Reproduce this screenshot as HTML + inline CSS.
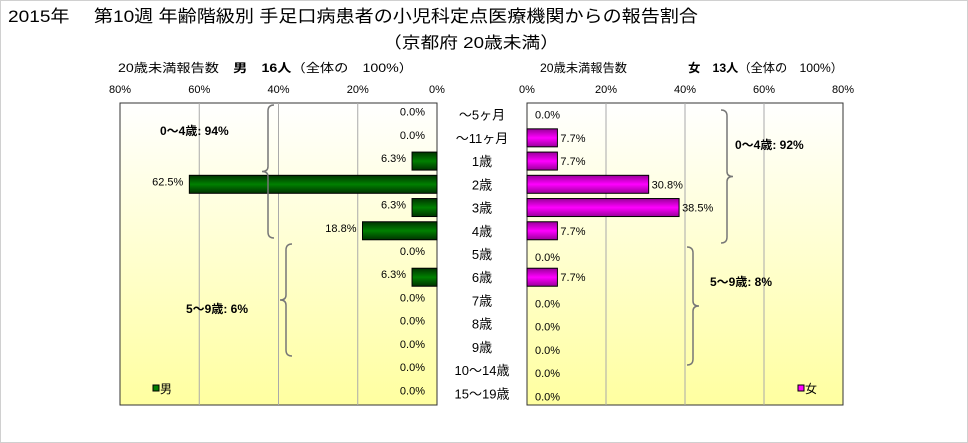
<!DOCTYPE html>
<html><head><meta charset="utf-8"><style>
body{margin:0;background:#fff;}
svg{display:block;font-family:"Liberation Sans","Noto Sans CJK JP",sans-serif;}
</style></head><body>
<svg id="c" width="968" height="443" viewBox="0 0 968 443">
<defs>
<linearGradient id="bg" x1="0" y1="0" x2="0" y2="1"><stop offset="0" stop-color="#ffffff"/><stop offset="1" stop-color="#ffffa0"/></linearGradient>
<linearGradient id="gm" x1="0" y1="0" x2="0" y2="1"><stop offset="0" stop-color="#003300"/><stop offset="0.5" stop-color="#008000"/><stop offset="1" stop-color="#003300"/></linearGradient>
<linearGradient id="gf" x1="0" y1="0" x2="0" y2="1"><stop offset="0" stop-color="#990099"/><stop offset="0.5" stop-color="#ff00ff"/><stop offset="1" stop-color="#990099"/></linearGradient>
</defs>
<rect x="0.5" y="0.5" width="967" height="442" fill="#fff" stroke="#d0d0d0"/>
<text x="8" y="22" font-size="17" textLength="690" lengthAdjust="spacingAndGlyphs">2015年　 第10週 年齢階級別 手足口病患者の小児科定点医療機関からの報告割合</text>
<text x="383" y="48" font-size="16" textLength="176" lengthAdjust="spacingAndGlyphs">（京都府 20歳未満）</text>
<text x="118" y="72" font-size="12" textLength="295" lengthAdjust="spacingAndGlyphs">20歳未満報告数　<tspan font-weight="bold">男　16人</tspan>（全体の　100%）</text>
<text x="540" y="72" font-size="12" textLength="303" lengthAdjust="spacingAndGlyphs">20歳未満報告数　　　　　<tspan font-weight="bold">女　13人</tspan>（全体の　100%）</text>
<g id="plots"></g>
</svg>
<script>
const categories=["～5ヶ月","～11ヶ月","1歳","2歳","3歳","4歳","5歳","6歳","7歳","8歳","9歳","10～14歳","15～19歳"];
const maleValues=[0,0,6.3,62.5,6.3,18.8,0,6.3,0,0,0,0,0];
const femaleValues=[0,7.7,7.7,30.8,38.5,7.7,0,7.7,0,0,0,0,0];
const tickValues=[0,20,40,60,80];
const tickLabels=["0%","20%","40%","60%","80%"];
const NS="http://www.w3.org/2000/svg";
const g=document.getElementById('plots');
const top0=103,bot=405,rh=(bot-top0)/categories.length;
const maleX=v=>437-v*(317/80);
const femX=v=>527+v*(316/80);
function el(t,a,txt){const e=document.createElementNS(NS,t);for(const k in a)e.setAttribute(k,a[k]);if(txt!=null)e.textContent=txt;g.appendChild(e);return e;}
const rowY=i=>top0+rh*i+rh/2;
let p=el('rect',{x:120,y:top0,width:317,height:bot-top0,fill:'url(#bg)',stroke:'#333'});

p=el('rect',{x:527,y:top0,width:316,height:bot-top0,fill:'url(#bg)',stroke:'#333'});

tickValues.forEach((v,i)=>{
 if(v>0&&v<80){
  let l=el('line',{x1:maleX(v),x2:maleX(v),y1:top0,y2:bot,stroke:'#aaa'});
  
  l=el('line',{x1:femX(v),x2:femX(v),y1:top0,y2:bot,stroke:'#aaa'});
  
 }
 let t=el('text',{x:maleX(v),y:93,'font-size':11,'text-anchor':'middle'},tickLabels[i]);
 
 t=el('text',{x:femX(v),y:93,'font-size':11,'text-anchor':'middle'},tickLabels[i]);
 
});
categories.forEach((c,i)=>{
 const y=rowY(i);
 let t=el('text',{x:482,y:y+5,'font-size':13,'text-anchor':'middle'},c);
 
 const mv=maleValues[i];
 if(mv>0){let b=el('rect',{x:maleX(mv),y:y-9,width:437-maleX(mv),height:18,fill:'url(#gm)',stroke:'#000'});
  }
 t=el('text',{x:maleX(mv)-(mv>0?6:12),y:y+1,'font-size':11,'text-anchor':'end'},mv.toFixed(1)+'%');
 
 const fv=femaleValues[i];
 if(fv>0){let b=el('rect',{x:527,y:y-9,width:femX(fv)-527,height:18,fill:'url(#gf)',stroke:'#000'});
  }
 t=el('text',{x:fv>0?femX(fv)+3:535,y:y+4+(fv>0?0:i>=6?3:0),'font-size':11},fv.toFixed(1)+'%');
 
});
function brace(x,y1,y2,dir){const m=(y1+y2)/2,d=dir*6;
 return `M${x+d},${y1} Q${x},${y1} ${x},${y1+6} L${x},${m-5} Q${x},${m} ${x-d},${m} Q${x},${m} ${x},${m+5} L${x},${y2-6} Q${x},${y2} ${x+d},${y2}`;}
let b=el('path',{d:brace(268,105,238,1),fill:'none',stroke:'#777','stroke-width':1.5});
b=el('path',{d:brace(286,244,356,1),fill:'none',stroke:'#777','stroke-width':1.5});
b=el('path',{d:brace(727,110,243,-1),fill:'none',stroke:'#777','stroke-width':1.5});
b=el('path',{d:brace(693,247,365,-1),fill:'none',stroke:'#777','stroke-width':1.5});
let t=el('text',{x:160,y:135,'font-size':12,'font-weight':'bold'},'0～4歳: 94%');
t=el('text',{x:186,y:313,'font-size':12,'font-weight':'bold'},'5～9歳: 6%');
t=el('text',{x:735,y:149,'font-size':12,'font-weight':'bold'},'0～4歳: 92%');
t=el('text',{x:710,y:286,'font-size':12,'font-weight':'bold'},'5～9歳: 8%');
let r=el('rect',{x:153,y:385,width:6,height:6,fill:'#008000',stroke:'#000'});
t=el('text',{x:160,y:393,'font-size':12},'男');
r=el('rect',{x:798,y:385,width:6,height:6,fill:'#ff00ff',stroke:'#000'});
t=el('text',{x:805,y:393,'font-size':12},'女');
</script>
</body></html>
